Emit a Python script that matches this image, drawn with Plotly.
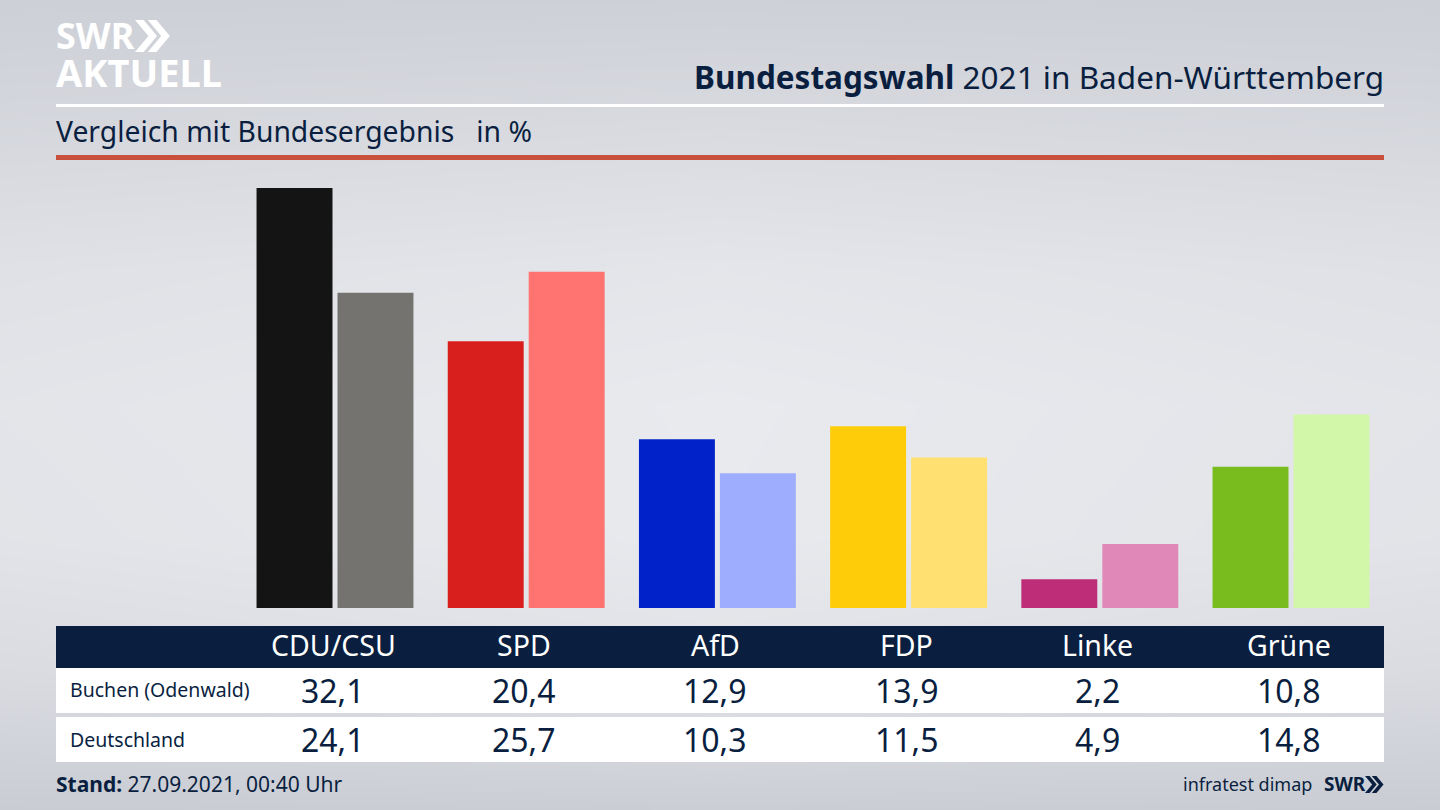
import plotly.graph_objects as go

parties = ["CDU/CSU", "SPD", "AfD", "FDP", "Linke", "Grüne"]
buchen = [32.1, 20.4, 12.9, 13.9, 2.2, 10.8]
deutschland = [24.1, 25.7, 10.3, 11.5, 4.9, 14.8]
buchen_colors = ["#141414", "#d81f1e", "#0022c8", "#ffcc0a", "#bd2d78", "#78bc1e"]
deutschland_colors = ["#747370", "#ff7470", "#9fadff", "#ffe070", "#e088b8", "#d3f7a8"]

NAVY = "#0a1f3f"
FONT = "Noto Sans"

# background gradient, drawn on a pixel-sized axis pair
bg_x = [0, 720, 1440]
bg_y = [0, 135, 270, 405, 540, 675, 810]
bg_z = [
    [0.12, 0.15, 0.12],
    [0.38, 0.50, 0.38],
    [0.70, 0.85, 0.70],
    [0.82, 1.00, 0.82],
    [0.78, 0.98, 0.78],
    [0.50, 0.72, 0.50],
    [0.00, 0.05, 0.00],
]


def fmt(v):
    return f"{v:.1f}".replace(".", ",")


def text(x, y, s, size, color=NAVY, anchor="left", xref="x", xshift=0):
    return dict(x=x, y=y, xref=xref, yref="y", text=s, showarrow=False,
                xanchor=anchor, yanchor="middle", borderpad=0, borderwidth=0,
                xshift=xshift,
                font=dict(family=FONT, size=size, color=color))


def rect(x0, y0, x1, y1, color):
    return dict(type="rect", xref="x", yref="y", x0=x0, y0=y0, x1=x1, y1=y1,
                fillcolor=color, line_width=0, layer="above")


def chevrons(x, y, h, color):
    # the two arrows of the SWR logo
    w = h * 0.42
    t = h * 0.27
    out = []
    for dx in (0, t + h * 0.13):
        p = (f"M{x+dx},{y} L{x+dx+t},{y} L{x+dx+t+w},{y+h/2} "
             f"L{x+dx+t},{y+h} L{x+dx},{y+h} L{x+dx+w},{y+h/2} Z")
        out.append(dict(type="path", xref="x", yref="y", path=p,
                        fillcolor=color, line_width=0, layer="above"))
    return out


fig = go.Figure()
fig.add_trace(go.Heatmap(
    x=bg_x, y=bg_y, z=bg_z, zsmooth="best", showscale=False, hoverinfo="skip",
    zmin=0, zmax=1, colorscale=[[0, "#c9ccd3"], [1, "#e9eaee"]],
    xaxis="x", yaxis="y",
))
fig.add_trace(go.Bar(x=parties, y=buchen, name="Buchen (Odenwald)",
                     marker=dict(color=buchen_colors, line_width=0),
                     xaxis="x2", yaxis="y2"))
fig.add_trace(go.Bar(x=parties, y=deutschland, name="Deutschland",
                     marker=dict(color=deutschland_colors, line_width=0),
                     xaxis="x2", yaxis="y2"))

shapes = [
    rect(56, 104, 1384, 107, "#ffffff"),
    rect(56, 155, 1384, 160, "#c8503c"),
    rect(56, 626, 1384, 668, NAVY),
    rect(56, 668, 1384, 713, "#ffffff"),
    rect(56, 717, 1384, 762, "#ffffff"),
]
shapes += chevrons(135, 20, 32, "#ffffff")
shapes += chevrons(1365, 776, 17, NAVY)

annotations = [
    text(56, 35, "<b>SWR</b>", 36, "#ffffff"),
    text(56, 72, "<b>AKTUELL</b>", 38, "#ffffff"),
    text(1384, 76, "<b>Bundestagswahl</b> 2021 in Baden-Württemberg", 31.5, anchor="right"),
    text(56, 131, "Vergleich mit Bundesergebnis   in %", 28.3),
    text(70, 689, "Buchen (Odenwald)", 19.5),
    text(70, 739, "Deutschland", 19.5),
    text(56, 784, "<b>Stand:</b> 27.09.2021, 00:40 Uhr", 21),
    text(1312, 784, "infratest dimap", 18, anchor="right"),
    text(1324, 784, "<b>SWR</b>", 19),
]
for p, a, b in zip(parties, buchen, deutschland):
    annotations.append(text(p, 645, p, 28.5, "#ffffff", "center", "x2", -2))
    annotations.append(text(p, 690, fmt(a), 32, NAVY, "center", "x2", -2))
    annotations.append(text(p, 739, fmt(b), 32, NAVY, "center", "x2", -2))

fig.update_layout(
    width=1440, height=810, autosize=False,
    margin=dict(l=0, r=0, t=0, b=0),
    showlegend=False,
    barmode="group", bargap=0.153, bargroupgap=0.062,
    paper_bgcolor="#dcdee3", plot_bgcolor="rgba(0,0,0,0)",
    font=dict(family=FONT, color=NAVY),
    shapes=shapes, annotations=annotations,
    xaxis=dict(domain=[0, 1], range=[0, 1440], visible=False, fixedrange=True),
    yaxis=dict(domain=[0, 1], range=[810, 0], visible=False, fixedrange=True),
    xaxis2=dict(domain=[239.4 / 1440, 1386.6 / 1440], anchor="y2", type="category",
                categoryorder="array", categoryarray=parties, range=[-0.5, 5.5],
                visible=False, fixedrange=True),
    yaxis2=dict(domain=[202 / 810, 650 / 810], anchor="x2", range=[0, 34.25],
                visible=False, fixedrange=True),
)

# no page margin around the chart, so it fills the whole window
fig.write_html("out.html", config=dict(displayModeBar=False),
               post_script="document.body.style.margin='0';")
